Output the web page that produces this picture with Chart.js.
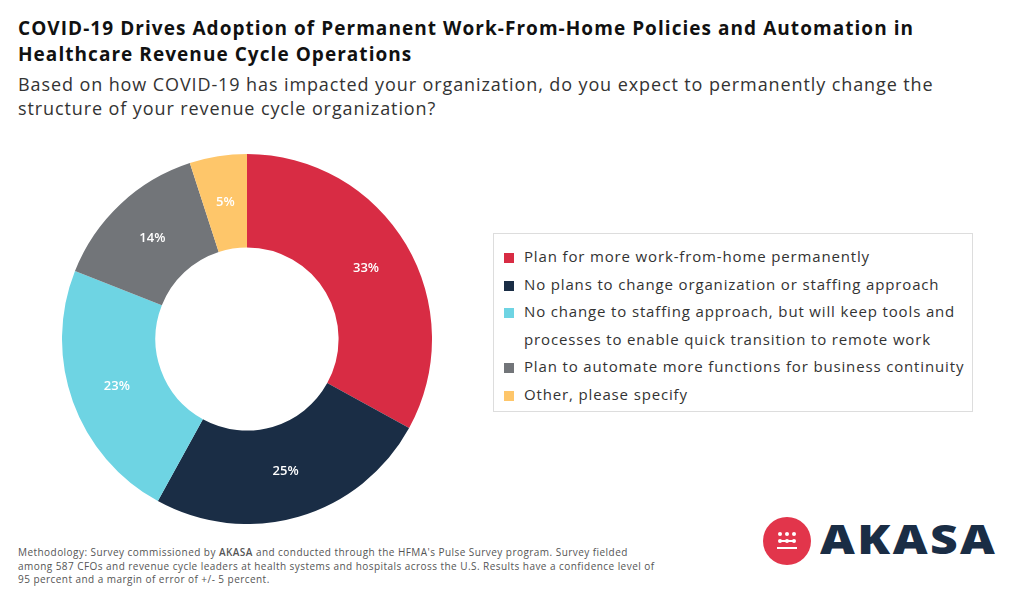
<!DOCTYPE html>
<html>
<head>
<meta charset="utf-8">
<script src="https://cdn.jsdelivr.net/npm/chart.js@4/dist/chart.umd.min.js"></script>
<style>
  html, body { margin: 0; padding: 0; background: #fff; }
  body { width: 1024px; height: 598px; position: relative; overflow: hidden; font-family: "Open Sans", Lato, sans-serif; color: #222; }
  .title { position: absolute; left: 18px; top: 15px; font-size: 19px; font-weight: 700; line-height: 26px; color: #111; white-space: nowrap; letter-spacing: 1.05px; }
  .subtitle { position: absolute; left: 18px; top: 72px; font-size: 18px; line-height: 24px; color: #333; white-space: nowrap; letter-spacing: 0.9px; }
  .chart-wrap { position: absolute; left: 62px; top: 154px; width: 370px; height: 370px; }
  .legend { position: absolute; left: 493px; top: 233px; width: 480px; height: 179px; border: 1px solid #ddd; box-sizing: border-box; padding: 9px 4px 0 0; }
  .legend .item { position: relative; padding-left: 30px; font-size: 15px; line-height: 27.5px; color: #333; letter-spacing: 0.85px; }
  .legend .sw { position: absolute; left: 10px; top: 10px; width: 10px; height: 10px; }
  .foot { position: absolute; left: 18px; top: 546px; font-size: 10px; line-height: 13.5px; color: #555; width: 642px; letter-spacing: 0.45px; }
  .logo { position: absolute; left: 763px; top: 517px; width: 260px; height: 50px; }
  .logo .circ { position: absolute; left: 0; top: 0; width: 48px; height: 48px; border-radius: 50%; background: #E2354B; }
  .logo .word { position: absolute; left: 57px; top: -6px; font-size: 40px; font-weight: 800; color: #1A2D45; letter-spacing: 2px; white-space: nowrap; transform: scaleX(1.2); transform-origin: left center; }
  .dot { position: absolute; width: 4px; height: 4px; border-radius: 50%; background: #fff; }
  .bar { position: absolute; height: 2px; background: #fff; }
</style>
</head>
<body>
<div class="title" id="title">COVID-19 Drives Adoption of Permanent Work-From-Home Policies and Automation in<br>Healthcare Revenue Cycle Operations</div>
<div class="subtitle" id="subtitle">Based on how COVID-19 has impacted your organization, do you expect to permanently change the<br>structure of your revenue cycle organization?</div>
<div class="chart-wrap"><canvas id="chartDonut"></canvas></div>
<div class="legend" id="legend"></div>
<div class="foot">Methodology: Survey commissioned by <b style="font-weight:600">AKASA</b> and conducted through the HFMA's Pulse Survey program. Survey fielded among 587 CFOs and revenue cycle leaders at health systems and hospitals across the U.S. Results have a confidence level of 95 percent and a margin of error of +/- 5 percent.</div>
<div class="logo">
  <div class="circ">
    <div class="dot" style="left:15px;top:15px"></div><div class="dot" style="left:22px;top:15px"></div><div class="dot" style="left:29px;top:15px"></div>
    <div class="dot" style="left:15px;top:22px"></div><div class="bar" style="left:17px;top:23px;width:14px"></div><div class="dot" style="left:22px;top:22px"></div><div class="dot" style="left:29px;top:22px"></div>
    <div class="bar" style="left:14px;top:30px;width:20px"></div>
  </div>
  <div class="word">AKASA</div>
</div>
<script>
// ── data ────────────────────────────────────────────────────
const answers = [
  'Plan for more work-from-home permanently',
  'No plans to change organization or staffing approach',
  'No change to staffing approach, but will keep tools and processes to enable quick transition to remote work',
  'Plan to automate more functions for business continuity',
  'Other, please specify',
];
const shares = [33, 25, 23, 14, 5];
const sliceColors = ['#D82C44', '#1A2D45', '#6ED4E3', '#727579', '#FEC66A'];

// percent labels drawn in the middle of each ring segment
const sliceLabels = {
  id: 'sliceLabels',
  afterDatasetsDraw(chart) {
    const { ctx } = chart;
    const meta = chart.getDatasetMeta(0);
    ctx.save();
    ctx.fillStyle = '#fff';
    ctx.font = '600 13px "Open Sans", sans-serif';
    ctx.textAlign = 'center';
    ctx.textBaseline = 'middle';
    meta.data.forEach((arc, i) => {
      const p = arc.tooltipPosition();
      ctx.fillText(shares[i] + '%', p.x, p.y);
    });
    ctx.restore();
  },
};

new Chart(document.getElementById('chartDonut'), {
  type: 'doughnut',
  data: {
    labels: answers,
    datasets: [{
      data: shares,
      backgroundColor: sliceColors,
      borderWidth: 0,
    }],
  },
  options: {
    responsive: true,
    maintainAspectRatio: false,
    animation: false,
    cutout: '49.5%',
    layout: { padding: 0 },
    plugins: {
      legend: { display: false },
      tooltip: { enabled: false },
    },
  },
  plugins: [sliceLabels],
});

// legend box
const legendEl = document.getElementById('legend');
answers.forEach((a, i) => {
  const item = document.createElement('div');
  item.className = 'item';
  const sw = document.createElement('span');
  sw.className = 'sw';
  sw.style.background = sliceColors[i];
  item.appendChild(sw);
  item.appendChild(document.createTextNode(a));
  legendEl.appendChild(item);
});
</script>
</body>
</html>
